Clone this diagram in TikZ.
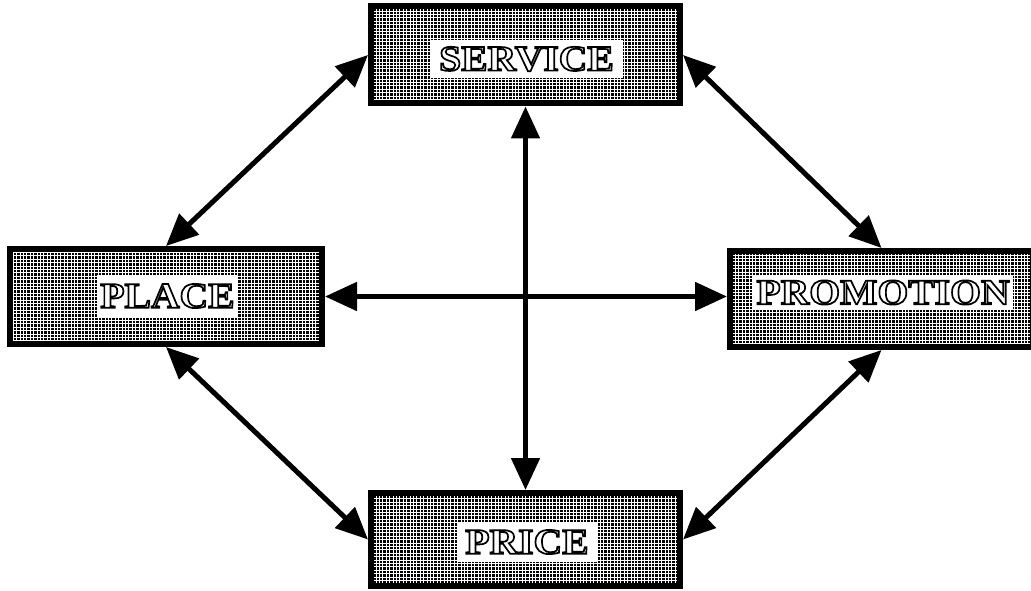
\documentclass[tikz,border=0pt]{standalone}
\usepackage{fontspec}
\setmainfont{Liberation Serif}
\newfontfamily\labelfont[FakeStretch=1.1]{Liberation Serif}
\usetikzlibrary{arrows.meta}

\tikzset{
  mixbox/.style={draw=black, line width=6pt, fill=black, inner sep=0pt,
    path picture={\draw[white, line width=0.5pt, step=3.4pt]
      (path picture bounding box.south west) grid (path picture bounding box.north east);}},
  namebox/.style={fill=white, inner sep=0pt},
  labeltext/.style={font=\labelfont\bfseries\fontsize{36}{36}\selectfont,
    inner sep=0pt, text=white},
  link/.style={{Triangle[width=28pt,length=32pt]}-{Triangle[width=28pt,length=32pt]},
    line width=5pt, black},
}

% white glyphs with a black stroked outline (fill+stroke text render mode)
\newcommand\hollowtext[1]{%
  \special{pdf:literal direct 2 Tr 1.7 w 0 G}#1\special{pdf:literal direct 0 Tr}}

\begin{document}
\begin{tikzpicture}[x=1pt, y=-1pt]
  \fill[white] (0,0) rectangle (1031,591);
  \useasboundingbox (0,0) rectangle (1031,591);

  % the four boxes
  \node[mixbox, minimum width=309pt, minimum height=97pt] (service) at (525.5,55) {};
  \node[mixbox, minimum width=312pt, minimum height=95pt] (place) at (166,296.5) {};
  \node[mixbox, minimum width=303pt, minimum height=96pt] (promotion) at (881.5,299) {};
  \node[mixbox, minimum width=309pt, minimum height=93pt] (price) at (525.5,539.5) {};

  % white name plates
  \node[namebox, minimum width=193pt, minimum height=38pt] (servicelbl) at (526.5,59) {};
  \node[namebox, minimum width=141pt, minimum height=42pt] (placelbl) at (167.5,296) {};
  \node[namebox, minimum width=260pt, minimum height=35pt] (promotionlbl) at (883,292.5) {};
  \node[namebox, minimum width=140pt, minimum height=40pt] (pricelbl) at (527,542) {};

  % the names
  \node[labeltext] (servicetxt) at (servicelbl) {\hollowtext{SERVICE}};
  \node[labeltext] (placetxt) at (placelbl) {\hollowtext{PLACE}};
  \node[labeltext] (promotiontxt) at (promotionlbl) {\hollowtext{PROMOTION}};
  \node[labeltext] (pricetxt) at (pricelbl) {\hollowtext{PRICE}};

  % two-way links
  \draw[link] (service.west) -- (place.north);
  \draw[link] (service.east) -- (promotion.north);
  \draw[link] (service.south) -- (price.north);
  \draw[link] (place.east) -- (place.east -| promotion.west);
  \draw[link] (place.south) -- (price.west);
  \draw[link] (promotion.south) -- (price.east);
\end{tikzpicture}
\end{document}
